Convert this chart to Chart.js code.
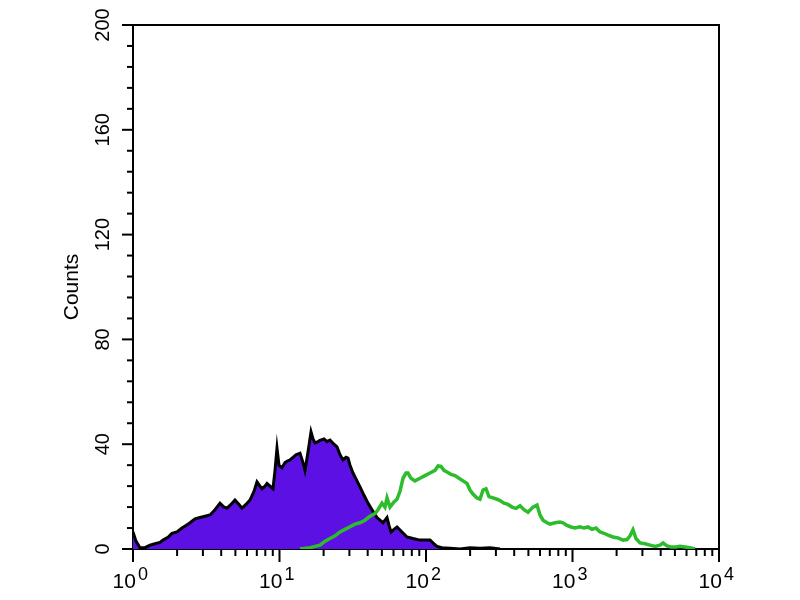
<!DOCTYPE html>
<html><head><meta charset="utf-8">
<script src="https://cdn.jsdelivr.net/npm/chart.js@4"></script>
<style>html,body{margin:0;padding:0;background:#fff}</style>
</head><body>
<canvas id="c" width="800" height="600"></canvas>
<script>
// Negative control histogram (purple, filled)
const purpleX = [1.00,1.048,1.116,1.207,1.306,1.413,1.529,1.602,1.733,1.846,1.997,2.160,2.300,2.449,2.650,2.867,3.101,3.355,3.628,3.925,4.181,4.382,4.666,4.968,5.291,5.546,5.906,6.290,6.698,7.021,7.360,7.595,7.962,8.216,8.614,9.029,9.318,9.614,9.922,10.40,10.90,11.25,11.80,12.37,12.96,13.80,14.47,14.93,15.65,16.41,16.93,17.47,18.32,18.90,20.13,21.10,22.12,23.55,24.69,25.88,27.13,28.44,29.35,30.29,31.75,33.81,35.44,37.75,40.19,42.80,46.29,48.53,50.87,52.49,54.17,55.90,57.69,60.46,63.39,68.58,74.19,81.52,91.0,98.4,106.5,113.4,118.9,128.6,145.8,170.7,199.7,233.7,273.5,320.0];
const purpleCounts = [6.5,3,0.5,0.5,1.5,2,2.5,3.4,4.5,6,6.5,8,9,10,11.5,12,12.5,13,15,17.5,16,15.6,17,18.7,17,15.6,17,18.7,22,25.6,24,23,24,25,24,23,30,38.5,32,31,33,33.5,34,35,36,36.6,33,30,37,44.7,42,40.5,41,41.5,42,41,41.6,40,39,36,34,35,34.7,32,29,26,23.7,20.5,17.5,15,12,11,10,11,12,9,6.5,7.5,8.4,6.5,4.6,4,3.4,3.4,3.4,2,1,0.5,0.3,0,0.5,0.3,0.5,0];
// Stained sample histogram (green line)
const greenX = [13.80,16.15,17.47,18.90,20.45,22.12,23.93,25.88,28.00,30.29,32.77,35.44,38.33,41.47,44.87,47.03,50.07,52.49,54.17,56.79,60.46,63.39,66.45,69.66,73.03,75.36,79.00,84.13,91.0,98.4,106.5,115.2,120.8,126.6,132.7,139.1,148.1,157.8,168.0,178.9,190.5,199.7,209.3,222.9,233.7,245.0,256.8,269.2,286.7,305.2,320.0,340.8,362.9,386.4,411.5,438.2,466.6,496.8,537.7,572.5,600.1,628.8,669.6,702.0,759.4,821.4,861.3,917.3,976.8,1040,1125,1198,1276,1359,1447,1541,1641,1747,1890,2045,2212,2355,2469,2588,2713,2889,3125,3381,3657,3957,4147,4417,4704,5088,5417,5861,6339,6859];
const greenCounts = [0,0.5,1,1.5,3,4,5,6.5,7.5,8.5,9.5,10,11,12.5,13.5,15,17.5,16,19.5,16,18,19,22,27,29,29,27,26,27,28,29,30,31.7,31.5,30,29.4,28.5,28,27,26,25,22.5,21,19.5,19,22.5,23,20,19.5,19,18.5,17.5,17,16,15.5,16.5,15,14,16,16.8,13,11,10,9.5,10,10.3,10,9,8.4,8,8.5,8,8.4,7.5,8,6.5,6,5.3,4.6,4.2,3.4,3.6,5,7.3,4,2.3,2,1.5,1,1.5,2.3,1.2,0.8,0.8,1,0.8,0.5,0];

const yLabelValues = [0,40,80,120,160,200];
const yMinorStep = 8;
const xDecades = [1,10,100,1000,10000];
const xExponents = ['0','1','2','3','4'];
const xMinorMultipliers = [2,3,4,5,6,7,8,9];

const xTickValues = [];
xDecades.forEach((d, i) => {
  xTickValues.push(d);
  if (i < xDecades.length - 1) xMinorMultipliers.forEach(m => xTickValues.push(m * d));
});

const toPts = (xs, ys) => xs.map((v, i) => ({x: v, y: ys[i]}));
const FONT = "'Liberation Sans', Arial, Helvetica, sans-serif";

const axisDecor = {
  id: 'axisDecor',
  afterDraw(chart) {
    const {ctx, chartArea: a, scales: {x, y}} = chart;
    ctx.save();
    ctx.strokeStyle = '#000';
    ctx.lineWidth = 2;
    ctx.beginPath();
    ctx.moveTo(a.left - 1, a.top);
    ctx.lineTo(a.right, a.top);
    ctx.lineTo(a.right, a.bottom + 1);
    ctx.stroke();
    x.ticks.forEach(t => {
      const px = x.getPixelForValue(t.value);
      const major = xDecades.includes(t.value);
      ctx.beginPath();
      ctx.moveTo(px, a.bottom);
      ctx.lineTo(px, a.bottom + (major ? 13 : 7));
      ctx.stroke();
    });
    y.ticks.forEach(t => {
      const py = y.getPixelForValue(t.value);
      const major = yLabelValues.includes(t.value);
      ctx.beginPath();
      ctx.moveTo(a.left, py);
      ctx.lineTo(a.left - (major ? 11 : 6), py);
      ctx.stroke();
    });
    // exponents of the decade labels
    ctx.fillStyle = '#000';
    ctx.font = '18px ' + FONT;
    ctx.textAlign = 'left';
    ctx.textBaseline = 'alphabetic';
    ctx.font = '21px ' + FONT;
    const baseW = ctx.measureText('10').width;
    const spaceW = ctx.measureText('10   ').width;
    ctx.font = '18px ' + FONT;
    xDecades.forEach((d, i) => {
      const px = x.getPixelForValue(d);
      ctx.fillText(xExponents[i], px - spaceW / 2 + baseW + 2, a.bottom + 31);
    });
    ctx.restore();
  }
};

new Chart(document.getElementById('c'), {
  type: 'line',
  data: {
    datasets: [
      {
        label: 'Sample',
        data: toPts(greenX, greenCounts),
        borderColor: '#2cbc2c',
        borderWidth: 3.5,
        pointRadius: 0,
        fill: false,
        tension: 0
      },
      {
        label: 'Control',
        data: toPts(purpleX, purpleCounts),
        borderColor: '#000000',
        backgroundColor: '#5c10e4',
        borderWidth: 3,
        pointRadius: 0,
        fill: 'origin',
        tension: 0
      }
    ]
  },
  options: {
    responsive: false,
    animation: false,
    events: [],
    layout: {padding: {left: 0, top: 25, right: 81, bottom: 0}},
    plugins: {legend: {display: false}, tooltip: {enabled: false}},
    scales: {
      x: {
        type: 'logarithmic',
        min: 1,
        max: 10000,
        afterBuildTicks: s => { s.ticks = xTickValues.map(v => ({value: v})); },
        afterFit: s => { s.height = 51; },
        grid: {display: false, drawTicks: false},
        border: {display: true, color: '#000', width: 2},
        ticks: {
          autoSkip: false,
          maxRotation: 0,
          minRotation: 0,
          padding: 21,
          color: '#000',
          font: {family: FONT, size: 21},
          callback: v => xDecades.includes(v) ? '10   ' : ''
        }
      },
      y: {
        type: 'linear',
        min: 0,
        max: 200,
        afterFit: s => { s.width = 133; },
        grid: {display: false, drawTicks: false},
        border: {display: true, color: '#000', width: 2},
        title: {display: true, text: 'Counts', color: '#000', font: {family: FONT, size: 21}, padding: {top: 60, bottom: 0}},
        ticks: {
          stepSize: yMinorStep,
          autoSkip: false,
          minRotation: 90,
          maxRotation: 90,
          crossAlign: 'center',
          padding: 13,
          color: '#000',
          font: {family: FONT, size: 20},
          callback: v => yLabelValues.includes(v) ? String(v) : ''
        }
      }
    }
  },
  plugins: [axisDecor]
});
</script>
</body></html>
